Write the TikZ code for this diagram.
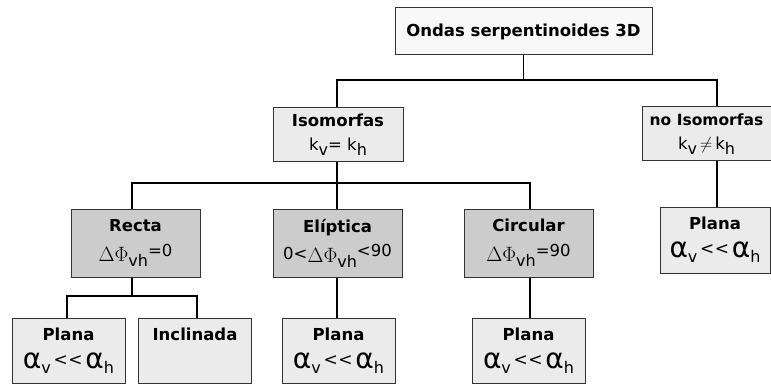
\documentclass[tikz,border=0pt]{standalone}
\usepackage{fontspec}
\setmainfont{DejaVu Sans}
\definecolor{grisclaro}{HTML}{EBEBEB}
\definecolor{grismedio}{HTML}{CCCCCC}
\definecolor{casiblanco}{HTML}{F8F8F8}
% subindice y letras griegas grandes
\newcommand{\bajo}[1]{\raisebox{-0.55ex}{\fontsize{16}{16}\selectfont #1}}
\newcommand{\alfa}{{\fontsize{28}{28}\selectfont α}}
\newcommand{\fase}{{\fontsize{21}{21}\selectfont$\Delta\Phi$}\bajo{vh}}
\newcommand{\menor}{\raisebox{0.35ex}{\fontsize{17}{17}\selectfont<\kern0.5pt<}}
\newcommand{\planatxt}{\textbf{Plana}\\[6pt]\alfa\bajo{v}\,\menor\,\alfa\bajo{h}}
\begin{document}
\begin{tikzpicture}[x=1pt,y=-1pt,
  caja/.style={draw=black!80, line width=1pt, rectangle, align=center, inner sep=1pt,
    font=\fontsize{16.5}{22}\selectfont},
  raiz/.style={caja, fill=casiblanco, minimum width=257pt, minimum height=47pt},
  tipo/.style={caja, fill=grisclaro, minimum width=130pt, minimum height=54pt},
  caso/.style={caja, fill=grismedio, minimum width=129pt, minimum height=68pt},
  hoja/.style={caja, fill=grisclaro, minimum width=113pt, minimum height=65pt},
  rama/.style={line width=1.6pt}]
\useasboundingbox (0,0) rectangle (771,385);
\node[raiz] (top) at (523.5,31.5) {\textbf{Ondas serpentinoides 3D}};
\node[tipo] (iso) at (338,135) {\textbf{Isomorfas}\\[2pt]k\bajo{v}= k\bajo{h}};
\node[tipo, minimum width=129pt] (noiso) at (706.5,134) {\textbf{\fontsize{15.5}{20}\selectfont no Isomorfas}\\[2pt]k\bajo{v}$\,\neq\,$k\bajo{h}};
\node[caso] (recta) at (135.5,243) {\textbf{Recta}\\[8pt]\fase\raisebox{0.6ex}{=0}};
\node[caso] (elip) at (337.5,243) {\textbf{Elíptica}\\[8pt]\raisebox{0.3ex}{0<}\fase\raisebox{0.6ex}{<90}};
\node[caso] (circ) at (528.5,243) {\textbf{Circular}\\[8pt]\fase\raisebox{0.6ex}{=90}};
\node[hoja] (pl1) at (68.5,350.5) {\planatxt};
\node[hoja, text depth=32pt, inner sep=0pt] (incl) at (195,350.5) {\textbf{Inclinada}};
\node[hoja] (pl2) at (338.5,350.5) {\planatxt};
\node[hoja] (pl3) at (528.5,350.5) {\planatxt};
\node[hoja, minimum width=110pt, minimum height=66pt] (pl4) at (715,240) {\planatxt};
% uniones
\coordinate (n1) at (523.5,80);
\coordinate (n2) at (717,80);
\coordinate (n3) at (337,183);
\coordinate (n4) at (132,296);
\draw[rama] (top.south) -- (n1);
\draw[rama] (iso.north -| n3) |- (n2) -- (n2 |- noiso.north);
\draw[rama] (iso.south -| n3) -- (n3);
\draw[rama] (recta.north -| n4) |- (n3) -| (circ.north -| 530,0);
\draw[rama] (elip.north -| n3) -- (n3);
\draw[rama] (recta.south -| n4) -- (n4);
\draw[rama] (pl1.north -| 67,0) |- (n4) -| (incl.north -| 197,0);
\draw[rama] (elip.south -| n3) -- (pl2.north -| n3);
\draw[rama] (circ.south -| 530,0) -- (pl3.north -| 530,0);
\draw[rama] (noiso.south -| n2) -- (pl4.north -| n2);
\end{tikzpicture}
\end{document}
